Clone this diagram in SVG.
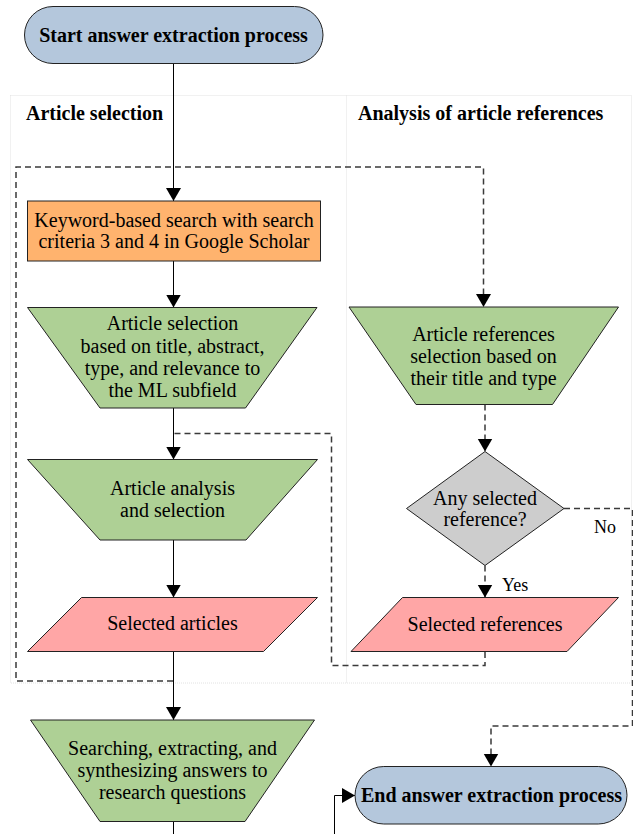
<svg xmlns="http://www.w3.org/2000/svg" width="633" height="834" viewBox="0 0 633 834">
<defs>
<style>
text{font-family:"Liberation Serif","Times New Roman",serif;font-size:20px;fill:#000}
.c{text-anchor:middle}
.b{font-weight:bold}
.lbl{font-size:18px}
.node{stroke:#222;stroke-width:1}
.term{fill:#b4c7dc}
.proc{fill:#ffb36e}
.man{fill:#aed095}
.data{fill:#ffa6a6}
.dec{fill:#cdcdcd}
.lane{fill:none;stroke:#e2e2e2;stroke-width:1;stroke-dasharray:1 1}
.solid{fill:none;stroke:#000;stroke-width:1}
.dash{fill:none;stroke:#3a3a3a;stroke-width:1.5;stroke-dasharray:6 4}
</style>
<marker id="ah" markerUnits="userSpaceOnUse" markerWidth="14" markerHeight="16" refX="13" refY="8" orient="auto">
<path d="M0,0.5 L13,8 L0,15.5 z" fill="#000"/>
</marker>
</defs>
<rect width="633" height="834" fill="#fff"/>

<g id="lanes">
<rect class="lane" x="10.5" y="95.5" width="621" height="587.5"/>
<line class="lane" x1="346.5" y1="95.5" x2="346.5" y2="683"/>
<text class="b" x="26" y="120">Article selection</text>
<text class="b" x="358" y="120">Analysis of article references</text>
</g>

<g id="connectors">
<path class="dash" d="M173,681 H16 V167 H483.5 V307" marker-end="url(#ah)"/>
<path class="dash" d="M485,652 V665.5 H331.5 V433.5 H173"/>
<path class="dash" d="M485,404.5 V451.5" marker-end="url(#ah)"/>
<path class="dash" d="M485,565.5 V597.5" marker-end="url(#ah)"/>
<path class="dash" d="M564,508.5 H632.5 V726 H491 V766.5" marker-end="url(#ah)"/>
<path class="solid" d="M173.5,63.5 V201" marker-end="url(#ah)"/>
<path class="solid" d="M173.5,261 V307.5" marker-end="url(#ah)"/>
<path class="solid" d="M173.5,408 V459.5" marker-end="url(#ah)"/>
<path class="solid" d="M173.5,540 V597.5" marker-end="url(#ah)"/>
<path class="solid" d="M173.5,651.5 V720" marker-end="url(#ah)"/>
<path class="solid" d="M173.5,821.5 V834"/>
<path class="solid" d="M334.5,834 V795.5 H355" marker-end="url(#ah)"/>
<text class="lbl" x="502" y="591">Yes</text>
<text class="lbl" x="594" y="533">No</text>
</g>

<g id="start">
<rect class="node term" x="24.5" y="6.5" width="298.5" height="57" rx="28.5"/>
<text class="c b" x="173.5" y="42">Start answer extraction process</text>
</g>

<g id="keyword-search">
<rect class="node proc" x="27.5" y="201" width="293" height="60"/>
<text class="c" x="174" y="226.5">Keyword-based search with search</text>
<text class="c" x="174" y="248">criteria 3 and 4 in Google Scholar</text>
</g>

<g id="article-selection">
<polygon class="node man" points="27.5,307.5 317,307.5 245.5,408 100,408"/>
<text class="c" x="172.5" y="330">Article selection</text>
<text class="c" x="172.5" y="352.5">based on title, abstract,</text>
<text class="c" x="172.5" y="375">type, and relevance to</text>
<text class="c" x="172.5" y="397">the ML subfield</text>
</g>

<g id="article-analysis">
<polygon class="node man" points="27.5,459.5 317.5,459.5 246,540 100,540"/>
<text class="c" x="172.5" y="495">Article analysis</text>
<text class="c" x="172.5" y="517">and selection</text>
</g>

<g id="selected-articles">
<polygon class="node data" points="81.5,597.5 317.5,597.5 263.5,651.5 27.5,651.5"/>
<text class="c" x="172.5" y="630">Selected articles</text>
</g>

<g id="reference-selection">
<polygon class="node man" points="349,307 618.5,307 552.5,404.5 416,404.5"/>
<text class="c" x="483.5" y="340.5">Article references</text>
<text class="c" x="483.5" y="363">selection based on</text>
<text class="c" x="483.5" y="385">their title and type</text>
</g>

<g id="any-selected">
<polygon class="node dec" points="485,451.5 564,508.5 485,565.5 406.5,508.5"/>
<text class="c" x="485" y="504.5">Any selected</text>
<text class="c" x="485" y="526">reference?</text>
</g>

<g id="selected-references">
<polygon class="node data" points="402.5,597.5 618.5,597.5 567,651.5 351,651.5"/>
<text class="c" x="485" y="630.5">Selected references</text>
</g>

<g id="answers">
<polygon class="node man" points="30.5,720 314.5,720 245,821.5 100,821.5"/>
<text class="c" x="172.5" y="755">Searching, extracting, and</text>
<text class="c" x="172.5" y="777">synthesizing answers to</text>
<text class="c" x="172.5" y="799">research questions</text>
</g>

<g id="end">
<rect class="node term" x="355" y="766.5" width="272" height="57.5" rx="28.75"/>
<text class="c b" x="491.5" y="801.5">End answer extraction process</text>
</g>
</svg>
